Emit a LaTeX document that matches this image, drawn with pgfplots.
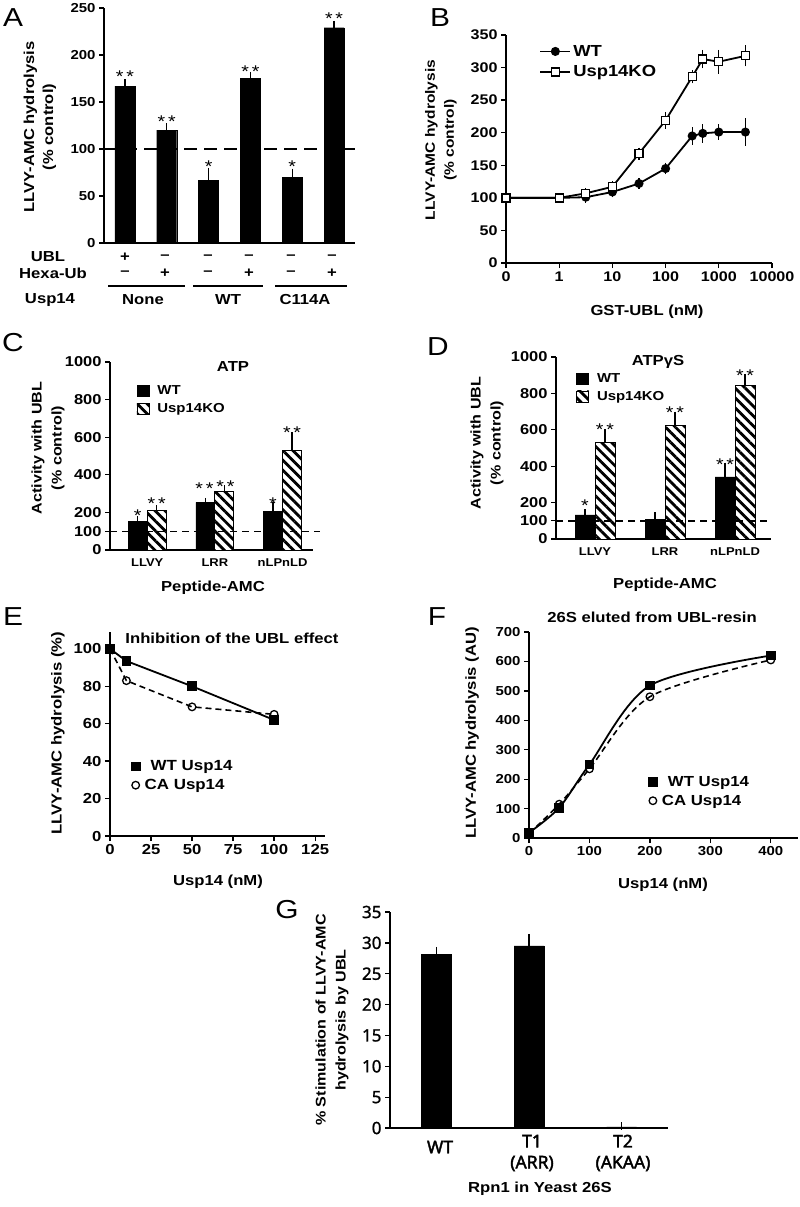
\documentclass[border=0pt]{standalone}
\usepackage{fontspec}
\setmainfont{Liberation Sans}[FakeStretch=1.15]
\newfontfamily\gfont{Noto Sans}[FakeBold=1.2]
\newfontfamily\gfontb{Noto Sans}[FakeBold=2.2]
\usepackage{pgfplots}
\pgfplotsset{compat=1.18}
\usetikzlibrary{patterns.meta}
\newcommand{\fs}[1]{\fontsize{#1}{#1}\selectfont}
\tikzset{starlab/.style={font=\fs{17}, yshift=-4pt, inner sep=0pt}}
\pgfplotsset{
  pan/.style={scale only axis, anchor=south west, axis x line*=bottom, axis y line*=left,
    axis line style={line width=1.6pt, -}, tick style={black, line width=1.3pt},
    tick align=outside, major tick length=5pt,
    ticklabel style={font=\bfseries\fs{13}},
    /pgf/number format/assume math mode=true, /pgf/number format/1000 sep={}, clip=false},
  errp/.style={error bars/y dir=plus, error bars/y explicit,
    error bars/error bar style={line width=1.2pt, black, solid},
    error bars/error mark options={line width=1.2pt, black, mark size=4pt, solid}},
  errb/.style={error bars/y dir=both, error bars/y explicit,
    error bars/error bar style={line width=1.2pt, black, solid},
    error bars/error mark options={line width=1.2pt, black, mark size=4pt, solid}},
  hatch/.style={fill=white, draw=black, line width=0.8pt, postaction={pattern={Lines[angle=-45,distance=7pt,line width=2.8pt]}}},
  sqleg/.style={legend image code/.code={\draw[##1] (0pt,-5.5pt) rectangle (12pt,5.5pt);}},
  mkleg/.style={legend image code/.code={\draw[##1] plot coordinates {(4pt,0pt)};}},
}
\begin{document}
\begin{tikzpicture}
\useasboundingbox (0,0) rectangle (800pt,-1207pt);
% ---------------- A
\begin{axis}[pan, at={(104pt,-243pt)}, width=251pt, height=235pt,
  xmin=-0.5, xmax=5.5, ymin=0, ymax=250, ytick={0,50,100,150,200,250}, xtick=\empty,
  ybar, bar width=20pt]
\addplot[fill=black, draw=black, errp] coordinates {(0,167) +- (0,3) (1,120) +- (0,3) (2,67) +- (0,9) (3,175) +- (0,3) (4,70) +- (0,5) (5,229) +- (0,3)};
\draw[line width=1.6pt, dash pattern=on 13pt off 7pt] (axis cs:-0.5,100) -- (axis cs:5.5,100);
\node[starlab] at (axis cs:0,181) {*\,*};
\node[starlab] at (axis cs:1,133) {*\,*};
\node[starlab] at (axis cs:2,85) {*};
\node[starlab] at (axis cs:3,187) {*\,*};
\node[starlab] at (axis cs:4,85) {*};
\node[starlab] at (axis cs:5,243) {*\,*};
\end{axis}
% ---------------- B
\begin{axis}[pan, at={(506pt,-263pt)}, width=266pt, height=228pt,
  ticklabel style={font=\bfseries\fs{14}},
  xmode=log, xmin=0.1, xmax=10000, ymin=0, ymax=350, ytick={0,50,...,350},
  xtick={0.1,1,10,100,1000,10000}, xticklabels={0,1,10,100,1000,10000}, xminorticks=false,
  legend style={draw=none, fill=none, at={(0.125,0.965)}, anchor=north west, font=\bfseries\fs{16}, row sep=4pt, inner sep=0pt},
  legend cell align=left,
  legend image code/.code={\draw[mark repeat=2, mark phase=2, #1] plot coordinates {(0pt,0pt) (15pt,0pt) (30pt,0pt)};}]
\addplot[black, line width=1.8pt, mark=*, mark size=3.6pt, mark options={solid, fill=black}, errb] coordinates {
 (0.1,100) +- (0,0) (1,100) +- (0,0) (3.16,101) +- (0,2) (10,109) +- (0,2) (31.6,122) +- (0,2) (100,145) +- (0,3)
 (316,195) +- (0,7) (500,199) +- (0,8) (1000,201) +- (0,6) (3162,201) +- (0,15)};
\addlegendentry{WT}
\addplot[black, line width=1.8pt, mark=square*, mark size=4pt, mark options={solid, fill=white, line width=1.3pt}, errb] coordinates {
 (0.1,100) +- (0,0) (1,100) +- (0,0) (3.16,107) +- (0,2) (10,117) +- (0,3) (31.6,168) +- (0,3) (100,219) +- (0,7)
 (316,286) +- (0,4) (500,313) +- (0,8) (1000,309) +- (0,12) (3162,318) +- (0,10)};
\addlegendentry{Usp14KO}
\end{axis}
% ---------------- C
\begin{axis}[pan, at={(110pt,-550pt)}, width=203pt, height=188pt,
  xmin=-0.55, xmax=2.45, ymin=0, ymax=1000, ytick={0,100,200,400,600,800,1000},
  ticklabel style={font=\bfseries\fs{14.3}},
  xtick={0,1,2}, xticklabels={LLVY,LRR,nLPnLD}, x tick label style={font=\bfseries\fs{11.3}},
  major x tick style={draw=none},
  ybar=0pt, bar width=19pt,
  legend style={draw=none, fill=none, at={(0.13,0.885)}, anchor=north west, font=\bfseries\fs{13}, row sep=3pt, inner sep=0pt},
  legend cell align=left, sqleg]
\addplot[fill=black, draw=black, errp] coordinates {(0,154) +- (0,3) (1,253) +- (0,3) (2,204) +- (0,30)};
\addlegendentry{\hspace{6pt}WT}
\addplot[hatch, errp] coordinates {(0,212) +- (0,5) (1,310) +- (0,12) (2,529) +- (0,76)};
\addlegendentry{\hspace{6pt}Usp14KO}
\draw[line width=1.4pt, dash pattern=on 7pt off 5pt] (axis cs:-0.55,100) -- (axis cs:2.55,100);
\node[starlab] at (axis cs:0,202) [xshift=-9.5pt] {*};
\node[starlab] at (axis cs:0,266) [xshift=9.5pt] {*\,*};
\node[starlab] at (axis cs:1,346) [xshift=-10.5pt] {*\,*};
\node[starlab] at (axis cs:1,356) [xshift=10.5pt] {*\,*};
\node[starlab] at (axis cs:2,266) [xshift=-9.5pt] {*};
\node[starlab] at (axis cs:2,643) [xshift=9.5pt] {*\,*};
\end{axis}
% ---------------- D
\begin{axis}[pan, at={(556pt,-539pt)}, width=215pt, height=182pt,
  xmin=-0.557, xmax=2.514, ymin=0, ymax=1000, ytick={0,100,200,400,600,800,1000},
  ticklabel style={font=\bfseries\fs{14.3}},
  xtick={0,1,2}, xticklabels={LLVY,LRR,nLPnLD}, x tick label style={font=\bfseries\fs{11.3}},
  major x tick style={draw=none},
  ybar=0pt, bar width=20pt,
  legend style={draw=none, fill=none, at={(0.093,0.92)}, anchor=north west, font=\bfseries\fs{13}, row sep=3pt, inner sep=0pt},
  legend cell align=left, sqleg]
\addplot[fill=black, draw=black, errp] coordinates {(0,133) +- (0,9) (1,109) +- (0,15) (2,341) +- (0,57)};
\addlegendentry{\hspace{6pt}WT}
\addplot[hatch, errp] coordinates {(0,529) +- (0,51) (1,622) +- (0,55) (2,845) +- (0,40)};
\addlegendentry{\hspace{6pt}Usp14KO}
\draw[line width=1.4pt, dash pattern=on 7pt off 5pt] (axis cs:-0.557,100) -- (axis cs:2.45,100);
\node[starlab] at (axis cs:0,203) [xshift=-10pt] {*};
\node[starlab] at (axis cs:0,621) [xshift=10pt] {*\,*};
\node[starlab] at (axis cs:1,714) [xshift=10pt] {*\,*};
\node[starlab] at (axis cs:2,429) [xshift=-10pt] {*\,*};
\node[starlab] at (axis cs:2,918) [xshift=10pt] {*\,*};
\end{axis}
% ---------------- E
\begin{axis}[pan, at={(110pt,-836pt)}, width=215pt, height=204pt,
  xmin=0, xmax=131, ymin=0, ymax=109, xtick={0,25,...,125}, ytick={0,20,...,100},
  ticklabel style={font=\bfseries\fs{14.5}},
  legend style={draw=none, fill=none, at={(0.1,0.38)}, anchor=north west, font=\bfseries\fs{14.7}, row sep=3pt, inner sep=0pt},
  legend cell align=left, mkleg]
\addplot[black, line width=1.8pt, mark=square*, mark size=4pt, mark options={solid, fill=black}] coordinates {(0,100) (10,93.5) (50,80) (100,62)};
\addlegendentry{\hspace{9pt}WT Usp14}
\addplot[black, line width=1.6pt, dash pattern=on 6pt off 4pt, mark=o, mark size=3.8pt, mark options={solid, fill=white, line width=1.3pt}] coordinates {(0,100) (10,83) (50,69) (100,65)};
\addlegendentry{\hspace{3pt}CA Usp14}
\end{axis}
% ---------------- F
\begin{axis}[pan, at={(529pt,-838pt)}, width=269pt, height=206pt,
  ticklabel style={font=\bfseries\fs{13}},
  xmin=0, xmax=445, ymin=0, ymax=700, xtick={0,100,...,400}, ytick={0,100,...,700},
  legend style={draw=none, fill=none, at={(0.445,0.31)}, anchor=north west, font=\bfseries\fs{14.6}, row sep=3pt, inner sep=0pt},
  legend cell align=left, mkleg]
\addplot[black, line width=1.8pt, smooth, mark=square*, mark size=4pt, mark options={solid, fill=black}] coordinates {(0,18) (50,103) (100,250) (200,518) (400,620)};
\addlegendentry{\hspace{9pt}WT Usp14}
\addplot[black, line width=1.6pt, smooth, dash pattern=on 6pt off 4pt, mark=o, mark size=3.8pt, mark options={solid, fill=white, line width=1.3pt}] coordinates {(0,15) (50,115) (100,235) (200,480) (400,605)};
\addlegendentry{\hspace{3pt}CA Usp14}
\end{axis}
% ---------------- G
\begin{axis}[pan, at={(390pt,-1128pt)}, width=278pt, height=216pt,
  xmin=-0.5, xmax=2.5, ymin=0, ymax=35, ytick={0,5,...,35}, xtick=\empty,
  ticklabel style={font=\gfont\fs{17}},
  ybar, bar width=30pt]
\addplot[fill=black, draw=black, errp] coordinates {(0,28.1) +- (0,0.6) (1,29.5) +- (0,1.3) (2,0.2) +- (0,0.1)};
\end{axis}
% ---------------- texts
\begin{scope}[font=\bfseries\fs{14.5}]
\node[font=\fs{26}] at (13pt,-18pt) {A};
\node[font=\fs{26}] at (440pt,-18pt) {B};
\node[font=\fs{26}] at (13pt,-343pt) {C};
\node[font=\fs{26}] at (438pt,-347pt) {D};
\node[font=\fs{26}] at (13pt,-617pt) {E};
\node[font=\fs{26}] at (437pt,-617pt) {F};
\node[font=\fs{26}] at (287pt,-910pt) {G};
% A labels
\node[rotate=90, align=center, font=\bfseries\fontsize{14.4}{19}\selectfont] at (40pt,-127pt) {LLVY-AMC hydrolysis\\(\% control)};
\node at (48pt,-257pt) {UBL};
\node at (53pt,-273pt) {Hexa-Ub};
\node at (50pt,-300pt) {Usp14};
\foreach \x/\s in {125/+,165/--,208/--,249/--,291/--,332/--} \node at (\x pt,-257pt) {\s};
\foreach \x/\s in {125/--,165/+,208/--,249/+,291/--,332/+} \node at (\x pt,-273pt) {\s};
\draw[line width=1.3pt] (108pt,-286pt) -- (185pt,-286pt);
\draw[line width=1.3pt] (193pt,-286pt) -- (263pt,-286pt);
\draw[line width=1.3pt] (275pt,-286pt) -- (347pt,-286pt);
\node at (143pt,-300pt) {None};
\node at (228pt,-300pt) {WT};
\node at (305pt,-300pt) {C114A};
% B labels
\node[rotate=90, align=center, font=\bfseries\fontsize{13.5}{19}\selectfont] at (441pt,-140pt) {LLVY-AMC hydrolysis\\(\% control)};
\node at (647pt,-312pt) {GST-UBL (nM)};
% C labels
\node[rotate=90, align=center, font=\bfseries\fontsize{14}{20}\selectfont] at (48pt,-448pt) {Activity with UBL\\(\% control)};
\node at (233pt,-367pt) {ATP};
\node at (213pt,-588pt) {Peptide-AMC};
% D labels
\node[rotate=90, align=center, font=\bfseries\fontsize{14}{20}\selectfont] at (487pt,-443pt) {Activity with UBL\\(\% control)};
\node at (658pt,-362pt) {ATPγS};
\node at (665pt,-585pt) {Peptide-AMC};
% E labels
\node[rotate=90] at (58pt,-733pt) {LLVY-AMC hydrolysis (\%)};
\node at (232pt,-638pt) {Inhibition of the UBL effect};
\node at (218pt,-882pt) {Usp14 (nM)};
% F labels
\node[rotate=90] at (472pt,-733pt) {LLVY-AMC hydrolysis (AU)};
\node at (652pt,-617pt) {26S eluted from UBL-resin};
\node at (663pt,-885pt) {Usp14 (nM)};
% G labels
\node[rotate=90, align=center, font=\bfseries\fontsize{14}{20}\selectfont] at (332pt,-1020pt) {\% Stimulation of LLVY-AMC\\hydrolysis by UBL};
\node[font=\gfontb\fs{17.5}] at (440pt,-1147pt) {WT};
\node[align=center, font=\gfontb\fontsize{17.5}{21}\selectfont] at (532pt,-1153pt) {T1\\(ARR)};
\node[align=center, font=\gfontb\fontsize{17.5}{21}\selectfont] at (623pt,-1153pt) {T2\\(AKAA)};
\node at (540pt,-1189pt) {Rpn1 in Yeast 26S};
\end{scope}
\end{tikzpicture}
\end{document}
